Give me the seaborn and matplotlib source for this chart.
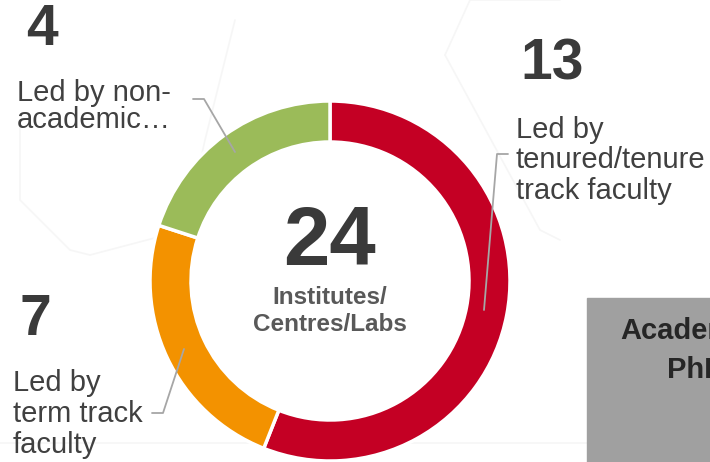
import matplotlib
matplotlib.use("Agg")
import matplotlib.pyplot as plt
from matplotlib.patches import Rectangle
import seaborn as sns

# numbers printed on the slide
shown_counts = [13, 7, 4]
# the ring itself is split 14 / 6 / 5 in the source picture
slice_values = [14, 6, 5]
labels = ["Led by\ntenured/tenure\ntrack faculty",
          "Led by\nterm track\nfaculty",
          "Led by non-\nacademic…"]
colors = ["#C40024", "#F39200", "#9BBB59"]
center_label = "Institutes/\nCentres/Labs"
box_lines = ["Academic", "PhD"]

sns.set_theme(style="white")
plt.rcParams['font.family'] = ['Liberation Sans', 'DejaVu Sans']

H = 462
fig = plt.figure(figsize=(7.1, 4.62), dpi=100)
ax = fig.add_axes([0, 0, 1, 1])

# very faint background watermark strokes
wm = "#F6F6F6"
for xs, ys in [([20, 20, 70, 90], [120, 200, 250, 255]),
               ([90, 185, 205, 235], [255, 230, 140, 20]),
               ([445, 470, 560], [55, 0, 0]),
               ([445, 540, 560], [55, 230, 240]),
               ([0, 710], [443, 443])]:
    ax.plot(xs, [H - y for y in ys], color=wm, lw=1.2, zorder=0)

wedges, _ = ax.pie(slice_values, colors=colors, startangle=90, counterclock=False,
                   center=(330, H - 281), radius=180,
                   wedgeprops=dict(width=41, edgecolor="white", linewidth=2.5))

ax.set_xlim(0, 710)
ax.set_ylim(0, H)
ax.axis("off")

# centre total (va='baseline' on multi-line text pins the last line)
ax.text(330, H - 265, str(sum(shown_counts)), ha="center", va="baseline",
        fontsize=60, fontweight="bold", color="#3A3A3A")
ax.text(330, H - 331, center_label, ha="center", va="baseline",
        fontsize=17.5, fontweight="bold", color="#595959", linespacing=1.2)

num_kw = dict(fontsize=41, fontweight="bold", color="#3A3A3A", va="baseline")
lab_kw = dict(fontsize=21, color="#404040", va="baseline")

# red - tenured
ax.text(520, H - 80, str(shown_counts[0]), **num_kw)
ax.text(516, H - 199, labels[0], linespacing=1.12, **lab_kw)
# orange - term track
ax.text(20, H - 335, str(shown_counts[1]), **num_kw)
ax.text(13, H - 453, labels[1], linespacing=1.14, **lab_kw)
# green - non-academic
ax.text(26, H - 45, str(shown_counts[2]), **num_kw)
ax.text(17, H - 128, labels[2], linespacing=0.95, **lab_kw)

# leader lines
lead = "#A6A6A6"
for xs, ys in [([508, 497, 484], [154, 154, 310]),
               ([152, 163, 184], [413, 413, 349]),
               ([193, 204, 235], [99, 99, 152])]:
    ax.plot(xs, [H - y for y in ys], color=lead, lw=1.3, zorder=5)

# grey box on the right edge
ax.add_patch(Rectangle((587, 0), 200, H - 298, color="#A0A0A0", zorder=3))
ax.text(620, H - 339, box_lines[0], fontsize=21, fontweight="bold",
        color="#262626", va="baseline", zorder=4)
ax.text(667, H - 378, box_lines[1], fontsize=21, fontweight="bold",
        color="#262626", va="baseline", zorder=4)

fig.savefig("out.png", dpi=100)
